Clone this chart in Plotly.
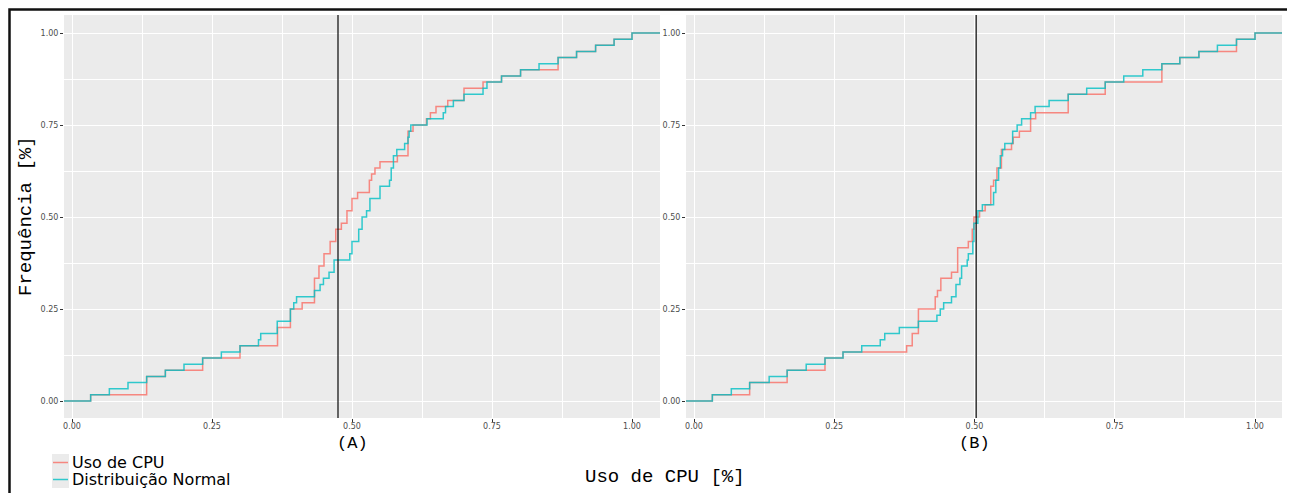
import plotly.graph_objects as go

# ---------------- data ----------------
N_SAMPLES = 60  # every ECDF step is 1/60

# Panel (A)
A_CPU_X = [0.0333, 0.1333, 0.1667, 0.2333, 0.3, 0.367, 0.39, 0.411, 0.433, 0.441,
           0.45, 0.461, 0.471, 0.481, 0.491, 0.5, 0.51, 0.531, 0.535, 0.541,
           0.55, 0.581, 0.6, 0.609, 0.633, 0.64, 0.65, 0.671, 0.7, 0.734,
           0.767, 0.801, 0.868, 0.901, 0.935, 0.968, 1.0]
A_CPU_N = [1, 4, 5, 7, 9, 12, 15, 16, 20, 22,
           24, 26, 28, 29, 31, 33, 34, 36, 37, 38,
           39, 40, 44, 45, 46, 47, 48, 49, 51, 52,
           53, 54, 56, 57, 58, 59, 60]
A_NORM_X = [0.0333, 0.0667, 0.1, 0.1333, 0.1667, 0.2, 0.2333, 0.2667, 0.3, 0.333,
            0.337, 0.3665, 0.39, 0.396, 0.401, 0.433, 0.443, 0.449, 0.459, 0.468,
            0.496, 0.5, 0.512, 0.518, 0.526, 0.532, 0.55, 0.567, 0.57, 0.574,
            0.58, 0.594, 0.6, 0.602, 0.605, 0.634, 0.663, 0.667, 0.681, 0.7,
            0.734, 0.741, 0.767, 0.801, 0.834, 0.868, 0.901, 0.935, 0.968, 1.0]
A_NORM_N = [1, 2, 3, 4, 5, 6, 7, 8, 9, 10,
            11, 13, 15, 16, 17, 18, 19, 20, 21, 23,
            24, 26, 28, 30, 31, 33, 35, 36, 38, 40,
            41, 42, 43, 44, 45, 46, 47, 48, 49, 50,
            51, 52, 53, 54, 55, 56, 57, 58, 59, 60]
A_VLINE = 0.475

# Panel (B)
B_CPU_X = [0.0327, 0.0992, 0.166, 0.2335, 0.2656, 0.379, 0.389, 0.4, 0.43, 0.434,
           0.44, 0.459, 0.47, 0.489, 0.496, 0.499, 0.509, 0.519, 0.529, 0.534,
           0.54, 0.548, 0.566, 0.569, 0.58, 0.6, 0.609, 0.667, 0.733, 0.834,
           0.866, 0.9, 0.967, 1.0]
B_CPU_N = [1, 3, 5, 7, 8, 9, 11, 15, 17, 18,
           20, 21, 25, 26, 28, 30, 31, 32, 35, 36,
           38, 41, 42, 43, 44, 46, 47, 50, 52, 55,
           56, 57, 59, 60]
B_NORM_X = [0.0327, 0.0665, 0.0992, 0.134, 0.166, 0.2, 0.2335, 0.2656, 0.299, 0.332,
            0.34, 0.366, 0.4, 0.433, 0.439, 0.445, 0.459, 0.467, 0.474, 0.477,
            0.487, 0.489, 0.497, 0.499, 0.506, 0.514, 0.534, 0.538, 0.543, 0.546,
            0.55, 0.554, 0.568, 0.576, 0.584, 0.6, 0.608, 0.633, 0.667, 0.7,
            0.733, 0.766, 0.8, 0.834, 0.866, 0.9, 0.933, 0.967, 1.0]
B_NORM_N = [1, 2, 3, 4, 5, 6, 7, 8, 9, 10,
            11, 12, 13, 14, 15, 16, 17, 19, 20, 22,
            23, 24, 26, 29, 31, 32, 34, 36, 38, 40,
            41, 42, 44, 45, 46, 47, 48, 49, 50, 51,
            52, 53, 54, 55, 56, 57, 58, 59, 60]
B_VLINE = 0.503

TICK_VALS = [0, 0.25, 0.5, 0.75, 1.0]
TICK_TEXT = ["0.00", "0.25", "0.50", "0.75", "1.00"]
MINOR_VALS = [0.125, 0.375, 0.625, 0.875]

SERIES_NAMES = ["Uso de CPU", "Distribuição Normal"]
PANEL_LABELS = ["(A)", "(B)"]
X_TITLE = "Uso de CPU [%]"
Y_TITLE = "Frequência [%]"

RED = "rgba(248,118,109,0.85)"
TEAL = "rgba(0,191,196,0.80)"

# ---------------- figure ----------------
W, H = 1295, 493
OFF = 8  # the page body adds an 8px margin; positions below are page pixels


def px_x(p):
    return (p - OFF) / W


def px_y(p):
    return 1 - (p - OFF) / H


def ecdf_points(xs, ns):
    assert len(xs) == len(ns)
    x = [-1.0] + list(xs) + [2.0]
    y = [0.0] + [n / N_SAMPLES for n in ns] + [1.0]
    return x, y


fig = go.Figure()

panels = [
    ("x", "y", A_CPU_X, A_CPU_N, A_NORM_X, A_NORM_N),
    ("x2", "y2", B_CPU_X, B_CPU_N, B_NORM_X, B_NORM_N),
]
for xa, ya, cx, cn, nx, nn in panels:
    x1, y1 = ecdf_points(cx, cn)
    fig.add_trace(go.Scatter(x=x1, y=y1, mode="lines", line=dict(color=RED, width=1.5, shape="hv"),
                             name=SERIES_NAMES[0], showlegend=False, xaxis=xa, yaxis=ya))
    x2, y2 = ecdf_points(nx, nn)
    fig.add_trace(go.Scatter(x=x2, y=y2, mode="lines", line=dict(color=TEAL, width=1.5, shape="hv"),
                             name=SERIES_NAMES[1], showlegend=False, xaxis=xa, yaxis=ya))

tickfont = dict(family="DejaVu Sans", size=8, color="#4D4D4D")
common_axis = dict(
    tickvals=TICK_VALS, ticktext=TICK_TEXT, ticks="outside", ticklen=3, tickwidth=1,
    tickcolor="#333333", tickfont=tickfont, showgrid=True, gridcolor="white", gridwidth=1.1,
    zeroline=False, showline=False,
    minor=dict(tickvals=MINOR_VALS, showgrid=True, gridcolor="white", gridwidth=0.5, ticks=""),
)
x_axis_extra = dict(ticklabelstandoff=-3)

ydom = [px_y(418), px_y(15)]
yrange = [(401 - 418) / 368, (401 - 15) / 368]

fig.update_layout(
    width=W, height=H,
    margin=dict(l=0, r=0, t=0, b=0),
    paper_bgcolor="white", plot_bgcolor="#EBEBEB",
    showlegend=False,
    xaxis=dict(domain=[px_x(64), px_x(660)], range=[(64 - 72) / 560, (660 - 72) / 560],
               anchor="y", **common_axis, **x_axis_extra),
    yaxis=dict(domain=ydom, range=yrange, anchor="x", **common_axis),
    xaxis2=dict(domain=[px_x(686), px_x(1282)], range=[(686 - 694) / 561, (1282 - 694) / 561],
                anchor="y2", **common_axis, **x_axis_extra),
    yaxis2=dict(domain=ydom, range=yrange, anchor="x2", **common_axis),
)

# vertical reference lines
for xr, yr, v in [("x", "y domain", A_VLINE), ("x2", "y2 domain", B_VLINE)]:
    fig.add_shape(type="line", xref=xr, yref=yr, x0=v, x1=v, y0=0, y1=1,
                  line=dict(color="#1a1a1a", width=1.3))

# outer border (kept inside the figure's own area)
fig.add_shape(type="rect", xref="paper", yref="paper",
              x0=px_x(9.5), x1=px_x(1291.5), y0=px_y(530), y1=px_y(9.5),
              line=dict(color="#111111", width=2.5), fillcolor="rgba(0,0,0,0)")

mono = "Liberation Mono, Courier New, monospace"
# panel labels
fig.add_annotation(text=PANEL_LABELS[0], xref="x", yref="paper", x=0.5, y=px_y(443),
                   xanchor="center", yanchor="middle",
                   showarrow=False, font=dict(family=mono, size=17, color="black"))
fig.add_annotation(text=PANEL_LABELS[1], xref="x2", yref="paper", x=0.5, y=px_y(443),
                   xanchor="center", yanchor="middle",
                   showarrow=False, font=dict(family=mono, size=17, color="black"))
# axis titles
fig.add_annotation(text=X_TITLE, xref="paper", yref="paper", x=px_x(665), y=px_y(476.5),
                   xanchor="center", yanchor="middle",
                   showarrow=False, font=dict(family=mono, size=19, color="black"))
fig.add_annotation(text=Y_TITLE, xref="paper", yref="paper", x=px_x(26), y=px_y(216),
                   xanchor="center", yanchor="middle",
                   showarrow=False, textangle=-90, font=dict(family=mono, size=19, color="black"))

# manual legend (ggplot-style keys)
key_colors = [RED, TEAL]
for i, (name, col) in enumerate(zip(SERIES_NAMES, key_colors)):
    top = 454 + 17 * i
    fig.add_shape(type="rect", xref="paper", yref="paper",
                  x0=px_x(52), x1=px_x(69), y0=px_y(top + 17), y1=px_y(top),
                  line=dict(width=0), fillcolor="#EBEBEB")
    fig.add_shape(type="line", xref="paper", yref="paper",
                  x0=px_x(53), x1=px_x(68), y0=px_y(top + 8.5), y1=px_y(top + 8.5),
                  line=dict(color=col, width=1.5))
    fig.add_annotation(text=name, xref="paper", yref="paper", x=px_x(70), y=px_y(top + 8.5),
                       xanchor="left", yanchor="middle", showarrow=False,
                       font=dict(family="DejaVu Sans", size=16, color="black"))

fig.write_html("out.html")
